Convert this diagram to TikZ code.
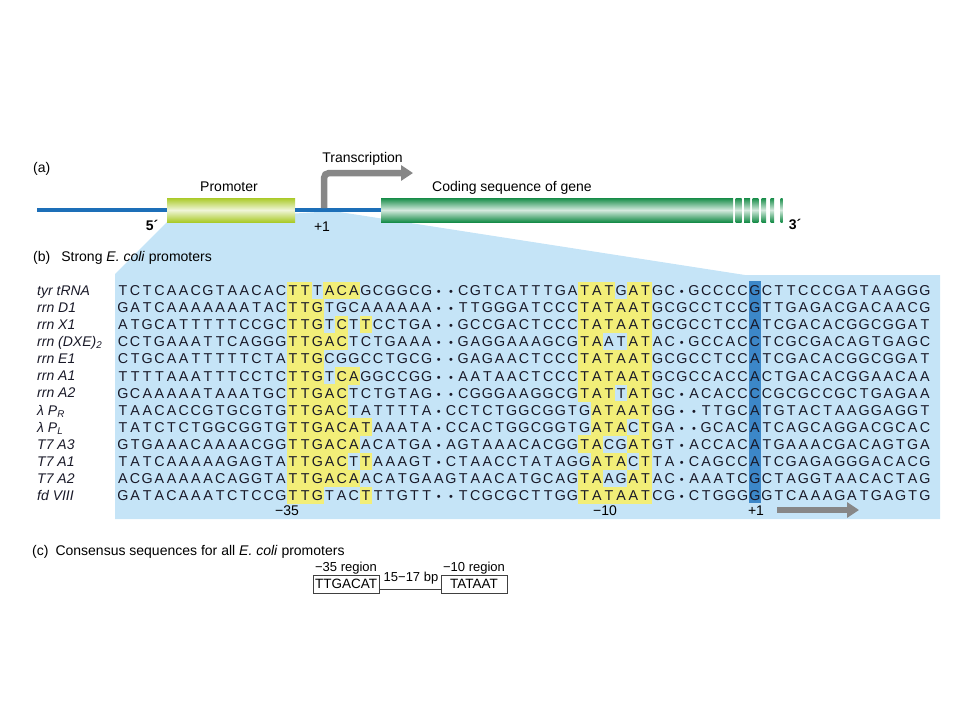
\documentclass[tikz,border=0pt]{standalone}
\usepackage{fontspec}
\setmainfont{Liberation Sans}
\usetikzlibrary{arrows.meta}
\definecolor{dnablue}{RGB}{29,111,184}
\definecolor{bgblue}{RGB}{197,228,247}
\definecolor{hlyellow}{RGB}{242,238,120}
\definecolor{plusblue}{RGB}{60,135,200}
\definecolor{arrowgray}{RGB}{135,135,135}
\definecolor{limegreen}{RGB}{170,202,40}
\definecolor{genegreen}{RGB}{22,140,72}
\definecolor{seqink}{RGB}{25,25,40}
\newcommand\dt{{\fontsize{11}{11}\selectfont •}}
\newcount\seqcol
\def\seqrow#1#2{\global\seqcol=0 \def\seqrowidx{#1}\seqloop#2\relax}
\def\seqloop#1{\ifx\relax#1\else
  \global\advance\seqcol by 1
  \node[seqch] (s\seqrowidx-\the\seqcol) at ({123+(\the\seqcol-1)*12.15},{290.5+(\seqrowidx-1)*17.08}) {#1};%
  \expandafter\seqloop\fi}
\newcommand\hlrow[2]{\foreach \c in {#2}{\fill[hlyellow] ({123+(\c-1)*12.15-6.25},{290.5+(#1-1)*17.08-8.75}) rectangle ++(12.5,17.5);}}
\tikzset{
  seqch/.style={font=\fontsize{14.3}{16}\selectfont, text=seqink, inner sep=0pt, text height=10.2pt, text depth=0pt, anchor=center},
  lab/.style={font=\fontsize{14}{16}\selectfont\itshape, text=seqink, inner sep=0pt, anchor=base west},
  txt/.style={font=\fontsize{14}{16}\selectfont, inner sep=0pt, anchor=base},
  smalltxt/.style={font=\fontsize{13}{14}\selectfont, inner sep=0pt, anchor=base},
  cyl/.style={shade, top color=#1, bottom color=#1, middle color=white!82!#1, inner sep=0pt, minimum height=24pt},
  dna/.style={dnablue, line width=4.2pt},
  cbox/.style={draw=black!75, line width=0.8pt, font=\fontsize{13.5}{15}\selectfont, minimum width=66pt, minimum height=18pt, inner sep=0pt, text height=9.7pt, text depth=0pt},
  bigarrow/.style={arrowgray, line width=6.5pt, -{Triangle[length=12pt,width=15pt]}}
}
\begin{document}
\begin{tikzpicture}[x=1pt,y=-1pt]
\useasboundingbox (0,0) rectangle (960,720);
% blue fan and panel
\fill[bgblue] (167,222) -- (333,211) -- (745,275) -- (940,275) -- (940,519) -- (115,519) -- (115,274) -- cycle;
% part (a)
\node[txt, anchor=base west] (la) at (33,172) {(a)};
\coordinate (dna5) at (37,210);
\node[cyl=limegreen, minimum width=128pt] (prom) at (231,210) {};
\node[cyl=genegreen, minimum width=344pt] (gene) at (553,210) {};
\draw[dna] (dna5) -- (prom.west);
\draw[dna] (prom.east) -- (gene.west);
\foreach \a/\b in {725/733, 735.5/741.5, 744/750, 752.7/758.3, 761.7/766, 770.7/774, 780.7/782.7}
  \shade[top color=genegreen, bottom color=genegreen, middle color=white!82!genegreen] (\a,198) rectangle (\b,222);
\coordinate (tss) at (324,208);
\coordinate (tsend) at (413,173);
\draw[bigarrow, rounded corners=5pt] (tss) -- (324,173) -- (tsend);
\node[txt] (ltrans) at (362.5,162) {Transcription};
\node[txt] (lprom) at (229,191) {Promoter};
\node[txt] (lgene) at (512,191) {Coding sequence of gene};
\node[txt, font=\fontsize{14}{16}\selectfont\bfseries] (l5) at (152,230.5) {5´};
\node[txt] (lp1) at (322,231) {+1};
\node[txt, font=\fontsize{14}{16}\selectfont\bfseries] (l3) at (795,229) {3´};
% part (b)
\node[txt, anchor=base west] (lb) at (33,261) {(b)\hspace{11pt}Strong \textit{E. coli} promoters};
% highlights
\hlrow{1}{15,16,18,19,20}
\hlrow{2}{15,16,17}
\hlrow{3}{15,16,17,19,21}
\hlrow{4}{15,16,17,18,19}
\hlrow{5}{15,16,17}
\hlrow{6}{15,16,17,19,20}
\hlrow{7}{15,16,17,18,19}
\hlrow{8}{15,16,17,18,19}
\hlrow{9}{15,16,17,18,19,20,21}
\hlrow{10}{15,16,17,18,19,20}
\hlrow{11}{15,16,17,18,19,21}
\hlrow{12}{15,16,17,18,19,20}
\hlrow{13}{15,16,17,21}
\hlrow{1}{39,40,41,43,44}
\hlrow{2}{39,40,41,42,43,44}
\hlrow{3}{39,40,41,42,43,44}
\hlrow{4}{39,40,43,44}
\hlrow{5}{39,40,41,42,43,44}
\hlrow{6}{39,40,41,42,43,44}
\hlrow{7}{39,40,41,43,44}
\hlrow{8}{40,41,42,43,44}
\hlrow{9}{40,41,42,44}
\hlrow{10}{39,40,43,44}
\hlrow{11}{40,41,42,44}
\hlrow{12}{39,40,43,44}
\hlrow{13}{39,40,41,42,43,44}
\fill[plusblue] (749.3,280.5) rectangle (760.7,503);
% sequences
\seqrow{1}{TCTCAACGTAACACTTTACAGCGGCG\dt\dt CGTCATTTGATATGATGC\dt GCCCCGCTTCCCGATAAGGG}
\seqrow{2}{GATCAAAAAAATACTTGTGCAAAAAA\dt\dt TTGGGATCCCTATAATGCGCCTCCGTTGAGACGACAACG}
\seqrow{3}{ATGCATTTTTCCGCTTGTCTTCCTGA\dt\dt GCCGACTCCCTATAATGCGCCTCCATCGACACGGCGGAT}
\seqrow{4}{CCTGAAATTCAGGGTTGACTCTGAAA\dt\dt GAGGAAAGCGTAATATAC\dt GCCACCTCGCGACAGTGAGC}
\seqrow{5}{CTGCAATTTTTCTATTGCGGCCTGCG\dt\dt GAGAACTCCCTATAATGCGCCTCCATCGACACGGCGGAT}
\seqrow{6}{TTTTAAATTTCCTCTTGTCAGGCCGG\dt\dt AATAACTCCCTATAATGCGCCACCACTGACACGGAACAA}
\seqrow{7}{GCAAAAATAAATGCTTGACTCTGTAG\dt\dt CGGGAAGGCGTATTATGC\dt ACACCCCGCGCCGCTGAGAA}
\seqrow{8}{TAACACCGTGCGTGTTGACTATTTTA\dt CCTCTGGCGGTGATAATGG\dt\dt TTGCATGTACTAAGGAGGT}
\seqrow{9}{TATCTCTGGCGGTGTTGACATAAATA\dt CCACTGGCGGTGATACTGA\dt\dt GCACATCAGCAGGACGCAC}
\seqrow{10}{GTGAAACAAAACGGTTGACAACATGA\dt AGTAAACACGGTACGATGT\dt ACCACATGAAACGACAGTGA}
\seqrow{11}{TATCAAAAAGAGTATTGACTTAAAGT\dt CTAACCTATAGGATACTTA\dt CAGCCATCGAGAGGGACACG}
\seqrow{12}{ACGAAAAACAGGTATTGACAACATGAAGTAACATGCAGTAAGATAC\dt AAATCGCTAGGTAACACTAG}
\seqrow{13}{GATACAAATCTCCGTTGTACTTTGTT\dt\dt TCGCGCTTGGTATAATCG\dt CTGGGGGTCAAAGATGAGTG}
% row labels
\foreach \i/\t in {1/{tyr tRNA}, 2/{rrn D1}, 3/{rrn X1}, 4/{rrn (DXE)\textsubscript{2}}, 5/{rrn E1}, 6/{rrn A1}, 7/{rrn A2}, 8/{λ P\textsubscript{R}}, 9/{λ P\textsubscript{L}}, 10/{T7 A3}, 11/{T7 A1}, 12/{T7 A2}, 13/{fd VIII}}
  \node[lab] (lab\i) at (37,{295.5+(\i-1)*17.08}) {\t};
% position marks
\node[txt] (m35) at (287,515) {−35};
\node[txt] (m10) at (605,515) {−10};
\node[txt] (mp1) at (756,515) {+1};
\coordinate (ar1) at (777,510);
\coordinate (ar2) at (859,510);
\draw[arrowgray, line width=6.5pt, -{Triangle[length=12pt,width=15pt]}] (ar1) -- (ar2);
% part (c)
\node[txt, anchor=base west] (lc) at (32,555) {(c)\hspace{7pt}Consensus sequences for all \textit{E. coli} promoters};
\node[cbox] (b35) at (346,584) {TTGACAT};
\node[cbox] (b10) at (474,584) {TATAAT};
\draw[black!75, line width=0.8pt] ([yshift=-5pt]b35.east) -- ([yshift=-5pt]b10.west);
\node[smalltxt] (r35) at (346,571.5) {−35 region};
\node[smalltxt] (r10) at (474,571.5) {−10 region};
\node[smalltxt] (gap) at (411,581) {15−17 bp};
\end{tikzpicture}
\end{document}
